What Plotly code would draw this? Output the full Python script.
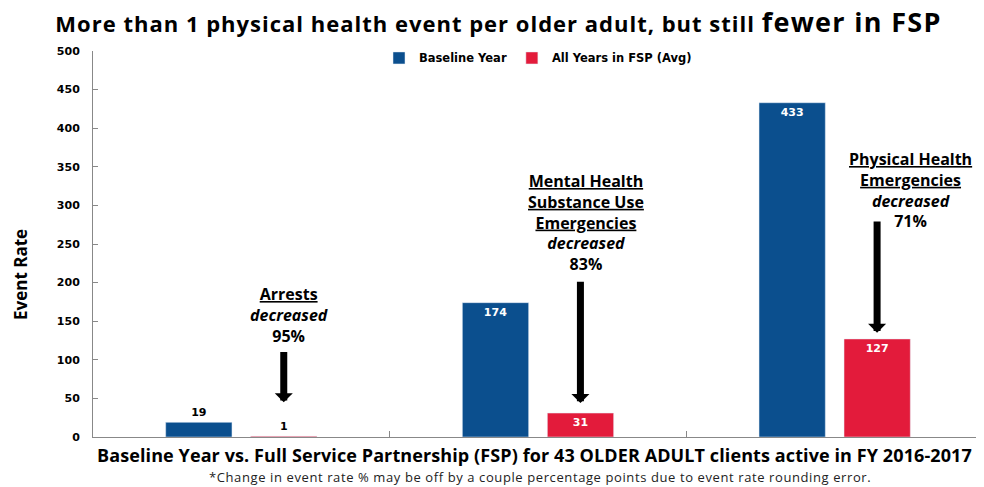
import plotly.graph_objects as go

categories = ["Arrests", "Mental Health Substance Use Emergencies", "Physical Health Emergencies"]
baseline = [19, 174, 433]
fsp_avg = [1, 31, 127]
series_names = ["Baseline Year", "All Years in FSP (Avg)"]
decrease_pct = ["95%", "83%", "71%"]
y_ticks = [0, 50, 100, 150, 200, 250, 300, 350, 400, 450, 500]

BLUE = "#0B4F8E"
RED = "#E31B3B"
TFONT = "Open Sans"
NFONT = "DejaVu Sans"

x = list(range(len(categories)))

def pos(vals):
    return ["outside" if v < 25 else "inside" for v in vals]

def col(vals):
    return ["black" if v < 25 else "white" for v in vals]

fig = go.Figure()
fig.add_trace(go.Bar(x=x, y=baseline, name=series_names[0], marker_color=BLUE,
                     text=[str(v) for v in baseline], textposition=pos(baseline),
                     insidetextanchor="end", cliponaxis=False,
                     textfont=dict(family=NFONT, size=11, color=col(baseline), weight="bold")))
fig.add_trace(go.Bar(x=x, y=fsp_avg, name=series_names[1], marker_color=RED,
                     text=[str(v) for v in fsp_avg], textposition=pos(fsp_avg),
                     insidetextanchor="end", cliponaxis=False,
                     textfont=dict(family=NFONT, size=11, color=col(fsp_avg), weight="bold")))

offset = 0.143
label_texts = [
    "<b><u>Arrests</u></b><br><b><i>decreased</i></b><br><b>%s</b>" % decrease_pct[0],
    "<b><u>Mental Health</u></b><br><b><u>Substance Use</u></b><br><b><u>Emergencies</u></b><br><b><i>decreased</i></b><br><b>%s</b>" % decrease_pct[1],
    "<b><u>Physical Health</u></b><br><b><u>Emergencies</u></b><br><b><i>decreased</i></b><br><b>%s</b>" % decrease_pct[2],
]
label_pos = [(0.16, 158), (1.163, 278), (2.254, 320)]
arrow_tail = [112, 203, 281]
arrow_head = [45, 44, 135]

annotations = []
for i in range(3):
    annotations.append(dict(x=label_pos[i][0], y=label_pos[i][1], xref="x", yref="y",
                            text=label_texts[i], showarrow=False, align="center",
                            font=dict(family=TFONT, size=16, color="black")))
    annotations.append(dict(x=i + offset, y=arrow_head[i], ax=i + offset, ay=arrow_tail[i],
                            xref="x", yref="y", axref="x", ayref="y", text="",
                            showarrow=True, arrowhead=1, arrowsize=0.43, arrowwidth=7,
                            arrowcolor="black"))

annotations.append(dict(x=0.496, y=-0.046, xref="paper", yref="paper", yanchor="middle",
                        text="<b><span style='letter-spacing:0.1px'>Baseline Year vs. Full Service Partnership (FSP) for 43 OLDER ADULT clients active in FY 2016-2017</span></b>",
                        showarrow=False, font=dict(family=TFONT, size=18, color="black")))
annotations.append(dict(x=0.502, y=-0.103, xref="paper", yref="paper", yanchor="middle",
                        text="<span style='letter-spacing:0.6px'>*Change in event rate % may be off by a couple percentage points due to event rate rounding error.</span>",
                        showarrow=False, font=dict(family=TFONT, size=13, color="#222")))
annotations.append(dict(x=-0.0808, y=0.42, xref="paper", yref="paper", xanchor="center", yanchor="middle",
                        text="<b>Event Rate</b>", textangle=-90,
                        showarrow=False, font=dict(family=TFONT, size=17, color="black")))

# page has an 8px body margin, so the figure is 976x479 drawn at (8, 8)
fig.update_layout(
    width=976, height=479,
    margin=dict(l=85, r=1, t=43, b=50),
    paper_bgcolor="white", plot_bgcolor="white",
    title=dict(text="<b><span style='letter-spacing:1px'>More than 1 physical health event per older adult, but still </span><span style='font-size:27px;letter-spacing:1.3px'>fewer in FSP</span></b>",
               x=0.5026, xanchor="center", y=1 - 16 / 479, yanchor="middle", yref="container",
               font=dict(family=TFONT, size=22, color="black")),
    barmode="group", bargap=0.427, bargroupgap=0.22,
    showlegend=True,
    legend=dict(orientation="h", x=0.5, xanchor="center", y=0.982, yanchor="middle",
                font=dict(family=NFONT, size=11.5, color="black", weight="bold"),
                bgcolor="rgba(0,0,0,0)", itemwidth=30, tracegroupgap=0),
    annotations=annotations,
)
fig.update_xaxes(range=[-0.5, 2.5], tickvals=[0.5, 1.5], ticktext=["", ""], ticks="inside",
                 ticklen=6, tickcolor="#888", showline=True, linecolor="#888", linewidth=1,
                 showgrid=False, zeroline=False, automargin=False)
fig.update_yaxes(range=[0, 500], tickvals=y_ticks, ticks="inside", ticklen=5, tickcolor="#888",
                 showline=True, linecolor="#888", linewidth=1, showgrid=False, zeroline=False,
                 automargin=False, ticklabelstandoff=10,
                 tickfont=dict(family=NFONT, size=11, color="black", weight="bold"))

fig.write_html("out.html")
